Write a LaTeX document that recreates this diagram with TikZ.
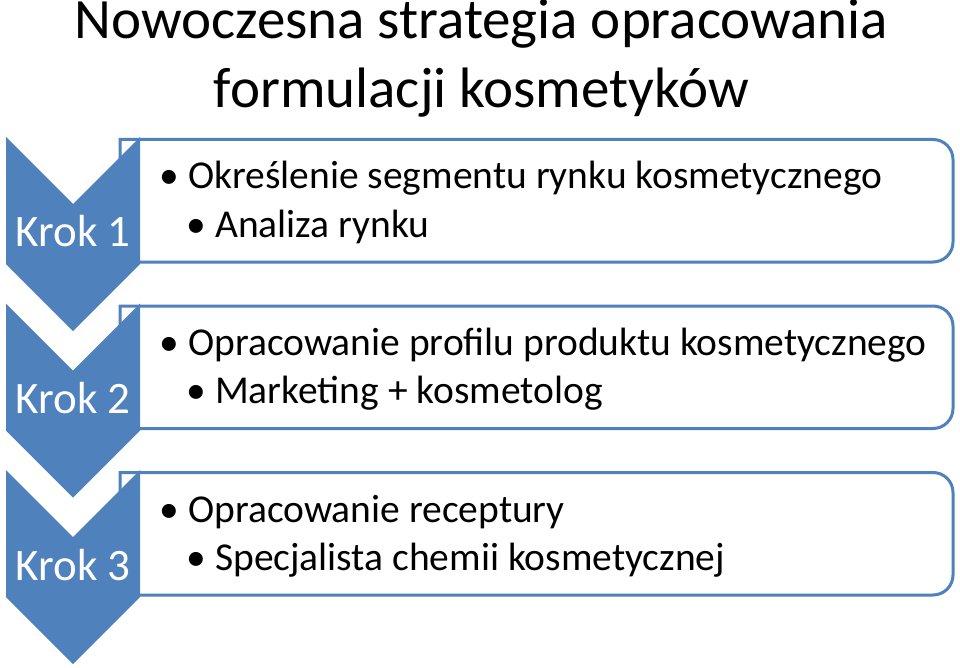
\documentclass[tikz,border=0pt]{standalone}
\usepackage{fontspec}
\setmainfont{Carlito}
\definecolor{accent}{HTML}{4F81BD}
\begin{document}
\begin{tikzpicture}[x=1pt,y=-1pt,
  chev/.style={fill=accent,draw=none},
  stepbox/.style={draw=accent,line width=3pt,fill=white},
  title/.style={font=\fontsize{57}{70}\selectfont,anchor=base,inner sep=0pt},
  klabel/.style={font=\fontsize{45}{54}\selectfont,text=white,anchor=base,inner sep=0pt},
  item/.style={font=\fontsize{39.5}{48}\selectfont,anchor=base west,inner sep=0pt},
]
\useasboundingbox[fill=white] (0,0) rectangle (960,668);
\node[title] (t1) at (481.5,39) {Nowoczesna strategia opracowania};
\node[title] (t2) at (481.5,108) {formulacji kosmetyków};
\foreach \i in {0,1,2}{
  \pgfmathsetmacro{\yt}{137+166.5*\i}
  \pgfmathsetmacro{\bt}{139.5+166.5*\i}
  \pgfmathsetmacro{\bb}{262+166.5*\i}
  \draw[stepbox] (120,\bt) -- (933,\bt) arc[start angle=-90,end angle=0,radius=20] -- (953,\bb-20) arc[start angle=0,end angle=90,radius=20] -- (120,\bb) -- cycle;
  \fill[chev] (6,\yt) -- (73,\yt+67) -- (140,\yt) -- (140,\yt+127) -- (73,\yt+194) -- (6,\yt+127) -- cycle;
}
\node[klabel] (k1) at (73,247) {Krok 1};
\node[klabel] (k2) at (73,413.5) {Krok 2};
\node[klabel] (k3) at (73,580) {Krok 3};
\node[item] (b1a) at (159,189) {•};
\node[item] (i1a) at (188,189) {Określenie segmentu rynku kosmetycznego};
\node[item] (b1b) at (186,237) {•};
\node[item] (i1b) at (215,237) {Analiza rynku};
\node[item] (b2a) at (159,355.5) {•};
\node[item] (i2a) at (188,355.5) {Opracowanie profilu produktu kosmetycznego};
\node[item] (b2b) at (186,403.5) {•};
\node[item] (i2b) at (215,403.5) {Marketing + kosmetolog};
\node[item] (b3a) at (159,522) {•};
\node[item] (i3a) at (188,522) {Opracowanie receptury};
\node[item] (b3b) at (186,570) {•};
\node[item] (i3b) at (215,570) {Specjalista chemii kosmetycznej};
\end{tikzpicture}
\end{document}
